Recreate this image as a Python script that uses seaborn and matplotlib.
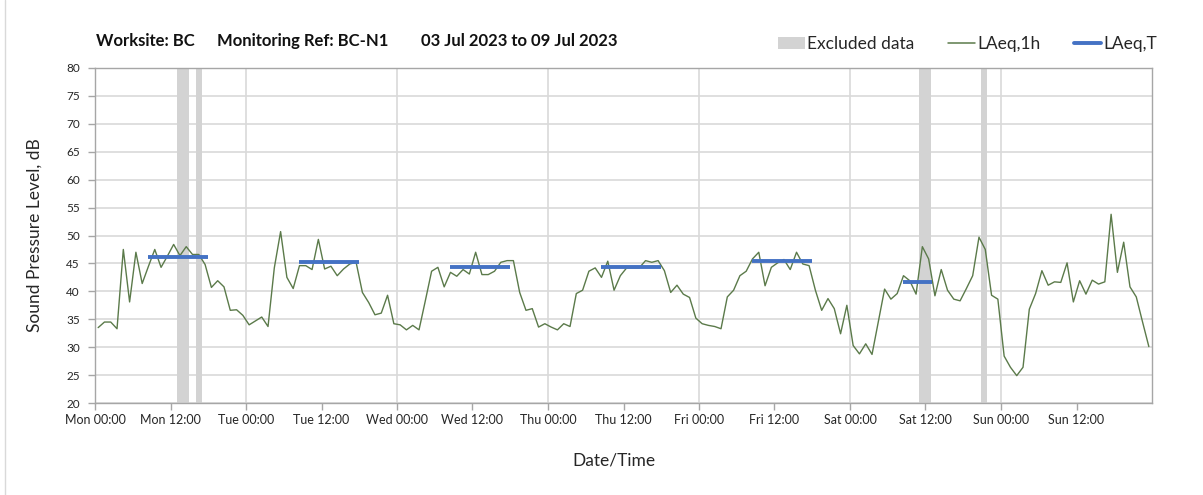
import numpy as np
import pandas as pd
import matplotlib
matplotlib.use("Agg")
import matplotlib.pyplot as plt
import seaborn as sns
from matplotlib.lines import Line2D
from matplotlib.patches import Patch

# ---- data (hourly LAeq,1h, Mon 00:00 .. Sun 23:00) ----
laeq_mon = [33.5, 34.5, 34.5, 33.3, 47.5, 38.1, 47.0, 41.4, 44.5, 47.5, 44.3, 46.3,
            48.4, 46.4, 48.0, 46.6, 46.6, 44.8, 40.7, 41.9, 40.8, 36.6, 36.7, 35.7]
laeq_tue = [34.0, 34.7, 35.4, 33.7, 44.2, 50.7, 42.5, 40.5, 44.6, 44.6, 43.9, 49.3,
            44.0, 44.5, 42.8, 44.0, 44.9, 45.2, 39.8, 38.0, 35.8, 36.1, 39.3, 34.2]
laeq_wed = [34.0, 33.1, 33.9, 33.1, 38.3, 43.6, 44.3, 40.8, 43.4, 42.7, 43.9, 43.1,
            47.0, 43.0, 43.0, 43.6, 45.2, 45.5, 45.5, 39.8, 36.6, 36.9, 33.6, 34.2]
laeq_thu = [33.6, 33.1, 34.2, 33.7, 39.6, 40.2, 43.6, 44.2, 42.5, 45.4, 40.2, 42.8,
            44.2, 44.2, 44.2, 45.5, 45.2, 45.5, 43.7, 39.8, 41.1, 39.5, 38.9, 35.2]
laeq_fri = [34.2, 33.9, 33.7, 33.3, 39.0, 40.2, 42.8, 43.6, 45.8, 47.0, 41.0, 44.3,
            45.1, 45.7, 43.9, 47.0, 44.9, 44.6, 40.2, 36.6, 38.7, 36.9, 32.4, 37.5]
laeq_sat = [30.3, 28.8, 30.6, 28.7, 34.5, 40.4, 38.6, 39.6, 42.8, 41.9, 39.5, 48.0,
            45.8, 39.2, 43.9, 40.2, 38.6, 38.3, 40.5, 42.8, 49.7, 47.5, 39.3, 38.6]
laeq_sun = [28.4, 26.4, 24.9, 26.4, 36.8, 39.6, 43.7, 41.1, 41.7, 41.6, 45.1, 38.1,
            41.9, 39.5, 42.0, 41.3, 41.7, 53.8, 43.4, 48.8, 40.8, 39.0, 34.5, 30.1]

tick_labels = ["Mon 00:00", "Mon 12:00", "Tue 00:00", "Tue 12:00", "Wed 00:00",
               "Wed 12:00", "Thu 00:00", "Thu 12:00", "Fri 00:00", "Fri 12:00",
               "Sat 00:00", "Sat 12:00", "Sun 00:00", "Sun 12:00"]

# LAeq,T periods (day index, start hour, end hour, level)
period_day = [0, 1, 2, 3, 4, 5]
period_start = [8, 8, 8, 8, 8, 8]
period_end = [18, 18, 18, 18, 18, 13]
period_level = [46.2, 45.2, 44.3, 44.3, 45.5, 41.7]

# excluded data (hours from Mon 00:00)
excl_start = [13.0, 16.05, 130.9, 140.9]
excl_end = [15.0, 17.0, 132.8, 141.8]

GREEN = "#5b7a4a"
BLUE = "#4472c4"
GREY = "#d3d3d3"
GRID = "#d9d9d9"
SPINE = "#a6a6a6"

sns.set_theme(style="white")
plt.rcParams["font.family"] = ["Lato", "DejaVu Sans"]

W, H = 1203, 495
fig = plt.figure(figsize=(W / 100, H / 100), dpi=100)
ax = fig.add_axes([95 / W, (H - 403) / H, (1152 - 95) / W, (403 - 68) / H])

laeq = laeq_mon + laeq_tue + laeq_wed + laeq_thu + laeq_fri + laeq_sat + laeq_sun
df = pd.DataFrame({"hour": np.arange(len(laeq)) + 0.5, "LAeq,1h": laeq})

ax.set_xlim(0, 168)
ax.set_ylim(20, 80)
ax.set_yticks(np.arange(20, 81, 5))
ax.set_xticks(np.arange(0, 168, 12))
ax.set_xticklabels(tick_labels)

ax.grid(axis="y", color=GRID, lw=1.2, zorder=0)
ax.set_axisbelow(True)
for d in range(1, 7):
    ax.axvline(d * 24, color=GRID, lw=1.2, zorder=0.5)

for s, e in zip(excl_start, excl_end):
    ax.axvspan(s, e, color=GREY, lw=0, zorder=1.5)

sns.lineplot(data=df, x="hour", y="LAeq,1h", color=GREEN, lw=1.0, ax=ax, zorder=3)

for d, s, e, lv in zip(period_day, period_start, period_end, period_level):
    ax.hlines(lv, d * 24 + s + 0.5, d * 24 + e, color=BLUE, lw=2.8, zorder=4)

ax.set_xlabel("")
ax.set_ylabel("")
for sp in ax.spines.values():
    sp.set_color(SPINE)
    sp.set_linewidth(1.0)
ax.tick_params(axis="both", direction="out", length=5, width=1, color=SPINE,
               labelsize=9, labelcolor="#262626", bottom=True, left=True)
ax.tick_params(axis="y", labelsize=8.5, pad=6)
ax.tick_params(axis="x", pad=3)

fig.text(35 / W, 1 - 235 / H, "Sound Pressure Level, dB", rotation=90,
         ha="center", va="center", fontsize=12.5, color="#262626")
fig.text(614 / W, 1 - 461 / H, "Date/Time", ha="center", va="center",
         fontsize=12.5, color="#262626")

ty = 1 - 41 / H
fig.text(96 / W, ty, "Worksite: BC", ha="left", va="center", fontsize=12,
         fontweight="bold", color="#111111")
fig.text(217 / W, ty, "Monitoring Ref: BC-N1", ha="left", va="center", fontsize=12,
         fontweight="bold", color="#111111")
fig.text(421 / W, ty, "03 Jul 2023 to 09 Jul 2023", ha="left", va="center",
         fontsize=12, fontweight="bold", color="#111111")

handles = [Patch(facecolor=GREY, edgecolor="none"),
           Line2D([], [], color=GREEN, lw=1.1),
           Line2D([], [], color=BLUE, lw=2.8)]
fig.legend(handles, ["Excluded data", "LAeq,1h", "LAeq,T"], loc="center right",
           bbox_to_anchor=(1157 / W, 1 - 44 / H), ncol=3, frameon=False,
           fontsize=12.5, handlelength=1.55, handletextpad=0.12, columnspacing=1.95,
           borderaxespad=0, borderpad=0, labelcolor="#262626")

fig.add_artist(Line2D([5 / W, 5 / W], [0, 1], transform=fig.transFigure,
                      color="#d9d9d9", lw=1))

fig.savefig("out.png", dpi=100)
